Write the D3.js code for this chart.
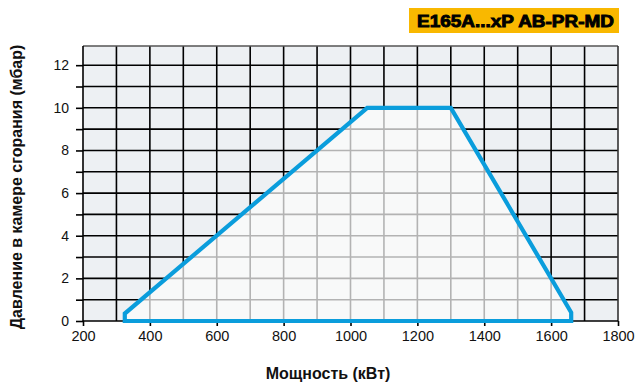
<!DOCTYPE html>
<html>
<head>
<meta charset="utf-8">
<script src="https://cdn.jsdelivr.net/npm/d3@7"></script>
<style>
html,body{margin:0;padding:0;background:#fff;}
svg{display:block;}
</style>
</head>
<body>
<svg id="chart" width="640" height="386"></svg>
<script>
const title = "E165A...xP AB-PR-MD";
const xLabel = "Мощность (кВт)";
const yLabel = "Давление в камере сгорания (мбар)";
const xTicks = [200, 400, 600, 800, 1000, 1200, 1400, 1600, 1800];
const yTicks = [0, 2, 4, 6, 8, 10, 12];
const xGrid = [300, 400, 500, 600, 700, 800, 900, 1000, 1100, 1200, 1300, 1400, 1500, 1600, 1700];
const yGrid = [1, 2, 3, 4, 5, 6, 7, 8, 9, 10, 11, 12];
const envelopePower =    [325, 325, 1050, 1300, 1660, 1660];
const envelopePressure = [0,   0.35, 10,  10,   0.4,  0];

(function () {
const svg = d3.select("#chart");
const pL = 83, pR = 618, pT = 46, pB = 321;
const font = "Liberation Sans, Arial, sans-serif";
const x = d3.scaleLinear().domain([200, 1800]).range([pL, pR]);
const y = d3.scaleLinear().domain([0, 12.9]).range([pB, pT]);

const pts = envelopePower.map((p, i) => [x(p), y(envelopePressure[i])]);
const lineGen = d3.line();

svg.append("rect").attr("x", pL).attr("y", pT).attr("width", pR - pL).attr("height", pB - pT)
  .attr("fill", "#edf0f3");

const g = svg.append("g");
g.selectAll("line.v").data(xGrid).join("line").attr("class", "v")
  .attr("x1", d => x(d)).attr("x2", d => x(d)).attr("y1", pT).attr("y2", pB)
  .attr("stroke", "#000").attr("stroke-width", 1.6);
g.selectAll("line.h").data(yGrid).join("line").attr("class", "h")
  .attr("x1", pL).attr("x2", pR).attr("y1", d => y(d)).attr("y2", d => y(d))
  .attr("stroke", "#000").attr("stroke-width", 1.6);

svg.append("defs").append("clipPath").attr("id", "env")
  .append("path").attr("d", lineGen(pts) + "Z");
svg.append("path").attr("d", lineGen(pts) + "Z").attr("fill", "#f8f9f9");

const gi = svg.append("g").attr("clip-path", "url(#env)");
gi.selectAll("line.v").data(xGrid).join("line").attr("class", "v")
  .attr("x1", d => x(d)).attr("x2", d => x(d)).attr("y1", pT).attr("y2", pB)
  .attr("stroke", "#b3b3b3").attr("stroke-width", 1.6);
gi.selectAll("line.h").data(yGrid).join("line").attr("class", "h")
  .attr("x1", pL).attr("x2", pR).attr("y1", d => y(d)).attr("y2", d => y(d))
  .attr("stroke", "#b3b3b3").attr("stroke-width", 1.6);

svg.append("line").attr("x1", pL).attr("x2", pR).attr("y1", pT).attr("y2", pT)
  .attr("stroke", "#555").attr("stroke-width", 1.6);
svg.append("line").attr("x1", pR).attr("x2", pR).attr("y1", pT).attr("y2", pB)
  .attr("stroke", "#333").attr("stroke-width", 1.6);

const yAxis = d3.axisLeft(y).tickValues(d3.range(0, 13, 1)).tickSize(7).tickPadding(7)
  .tickFormat(d => yTicks.includes(d) ? d : "");
const ya = svg.append("g").attr("transform", `translate(${pL},0)`).call(yAxis);
ya.select(".domain").attr("stroke", "#000").attr("stroke-width", 1.6).attr("d", `M0,${pT}V${pB}`);
ya.selectAll(".tick line").attr("stroke", "#000").attr("stroke-width", 1.6);
ya.selectAll("text").attr("font-family", font).attr("font-size", 14).attr("fill", "#111");

const xAxis = d3.axisBottom(x).tickValues(xTicks).tickSize(5).tickPadding(5)
  .tickFormat(d3.format("d"));
const xa = svg.append("g").attr("transform", `translate(0,${pB})`).call(xAxis);
xa.select(".domain").attr("stroke", "#000").attr("stroke-width", 1.6).attr("d", `M${pL},0H${pR}`);
xa.selectAll(".tick line").attr("stroke", "#000").attr("stroke-width", 1.6);
xa.selectAll("text").attr("font-family", font).attr("font-size", 14.5).attr("fill", "#111");

svg.append("path").attr("d", lineGen(pts) + "Z")
  .attr("fill", "none").attr("stroke", "#0a9ddc").attr("stroke-width", 4.2)
  .attr("stroke-linejoin", "miter");

svg.append("text").attr("x", 328).attr("y", 379).attr("text-anchor", "middle")
  .attr("font-family", font).attr("font-weight", "bold")
  .attr("font-size", 16).attr("fill", "#111").text(xLabel);
svg.append("text").attr("transform", "translate(22,187) rotate(-90)").attr("text-anchor", "middle")
  .attr("font-family", font).attr("font-weight", "bold")
  .attr("font-size", 16).attr("fill", "#111").text(yLabel);

svg.append("rect").attr("x", 409).attr("y", 8).attr("width", 210).attr("height", 25).attr("fill", "#f9b800");
svg.append("text").attr("x", 417).attr("y", 26.5)
  .attr("textLength", 197).attr("lengthAdjust", "spacingAndGlyphs")
  .attr("font-family", font).attr("font-weight", "bold")
  .attr("font-size", 16.5).attr("fill", "#000").attr("stroke", "#000").attr("stroke-width", 0.9)
  .text(title);
})();
</script>
</body>
</html>
